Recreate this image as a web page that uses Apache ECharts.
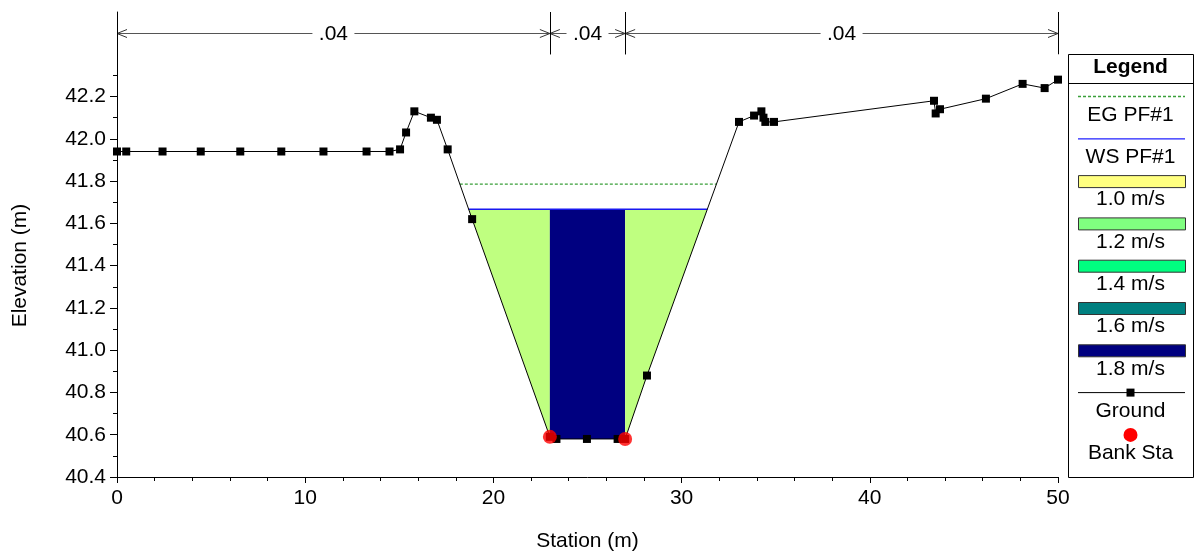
<!DOCTYPE html>
<html><head><meta charset="utf-8">
<script src="https://cdn.jsdelivr.net/npm/echarts@6/dist/echarts.min.js"></script>
<style>html,body{margin:0;padding:0;background:#fff}#c{width:1197px;height:559px}</style>
</head><body><div id="c"></div>
<script>
// ---------------- data ----------------
const groundStation = [0, 0.49, 2.42, 4.45, 6.55, 8.73, 10.97, 13.26, 14.48, 15.04, 15.36, 15.80, 16.68, 17.0, 17.57, 18.87,
  23.0, 23.35, 24.97, 26.6, 27.0, 28.16, 33.05, 33.85, 34.24, 34.35, 34.45, 34.91, 43.41, 43.5, 43.73, 46.17, 48.12, 49.29, 50.0];
const groundElev = [41.94, 41.94, 41.94, 41.94, 41.94, 41.94, 41.94, 41.94, 41.94, 41.95, 42.03, 42.13, 42.10, 42.09, 41.95, 41.62,
  40.59, 40.58, 40.58, 40.58, 40.58, 40.88, 42.08, 42.11, 42.13, 42.10, 42.08, 42.08, 42.18, 42.12, 42.14, 42.19, 42.26, 42.24, 42.28];
const bankStation = [23.0, 27.0];
const bankElev = [40.59, 40.58];
const wsElev = 41.667;   // WS PF#1
const egElev = 41.786;   // EG PF#1
const channelLow = 25.0; // station inside the wetted channel
const nBreaks = [0, 23.0, 27.0, 50];
const nValues = ['.04', '.04', '.04'];
const zoneStart = [null, 23.0, 27.0];   // null = water edge
const zoneEnd = [23.0, 27.0, null];
const zoneVelocity = [1.1, 1.8, 1.1];
const velocityLabels = ['1.0 m/s', '1.2 m/s', '1.4 m/s', '1.6 m/s', '1.8 m/s'];
const velocityStops = [1.0, 1.2, 1.4, 1.6, 1.8];
const velocityColors = ['#FFFF80', '#80FF80', '#00FF80', '#008080', '#000080'];
const xTickValues = [0, 10, 20, 30, 40, 50];
const yTickLabels = [40.4, 40.6, 40.8, 41.0, 41.2, 41.4, 41.6, 41.8, 42.0, 42.2];
const yMinorTicks = [40.5, 40.7, 40.9, 41.1, 41.3, 41.5, 41.7, 41.9, 42.1, 42.3];

// ---------------- helpers ----------------
function groundAt(s) {
  for (let i = 0; i < groundStation.length - 1; i++) {
    const a = groundStation[i], b = groundStation[i + 1];
    if (s >= a && s <= b) {
      if (b === a) return groundElev[i];
      return groundElev[i] + (groundElev[i + 1] - groundElev[i]) * (s - a) / (b - a);
    }
  }
  return groundElev[groundElev.length - 1];
}
function waterEdges(level) {
  let k = 0;
  while (groundStation[k + 1] <= channelLow) k++;
  let i = k;
  while (i > 0 && groundElev[i] < level) i--;
  const l = groundStation[i] + (groundStation[i + 1] - groundStation[i]) * (level - groundElev[i]) / (groundElev[i + 1] - groundElev[i]);
  let j = k + 1;
  while (j < groundStation.length - 1 && groundElev[j] < level) j++;
  const r = groundStation[j - 1] + (groundStation[j] - groundStation[j - 1]) * (level - groundElev[j - 1]) / (groundElev[j] - groundElev[j - 1]);
  return [l, r];
}
function velColor(v) {
  const hex = c => [1, 3, 5].map(p => parseInt(c.substr(p, 2), 16));
  if (v <= velocityStops[0]) return velocityColors[0];
  for (let i = 0; i < velocityStops.length - 1; i++) {
    if (v <= velocityStops[i + 1]) {
      const t = (v - velocityStops[i]) / (velocityStops[i + 1] - velocityStops[i]);
      const a = hex(velocityColors[i]), b = hex(velocityColors[i + 1]);
      return 'rgb(' + a.map((x, k) => Math.round(x + (b[k] - x) * t)).join(',') + ')';
    }
  }
  return velocityColors[velocityColors.length - 1];
}
const wsEdge = waterEdges(wsElev);
const egEdge = waterEdges(egElev);
const zones = zoneStart.map((s, i) => [s === null ? wsEdge[0] : s, zoneEnd[i] === null ? wsEdge[1] : zoneEnd[i], zoneVelocity[i]]);
const groundData = groundStation.map((s, i) => [s, groundElev[i]]);
const bankData = bankStation.map((s, i) => [s, bankElev[i]]);
const nData = nValues.map((n, i) => [nBreaks[i], nBreaks[i + 1], n]);

// ---------------- layout constants ----------------
const FONT = '"Liberation Sans", Arial, Helvetica, sans-serif';
const FS = 21;
const ANN_Y = 42.5, ANN_TOP = 42.6, ANN_BOT = 42.4;

const chart = echarts.init(document.getElementById('c'), null, { renderer: 'canvas' });

// legend graphic
const LX0 = 1068, LY0 = 54, LW = 125, LH = 423, LCX = LX0 + LW / 2;
const legendNames = ['EG PF#1', 'WS PF#1'].concat(velocityLabels, ['Ground', 'Bank Sta']);
const legendGraphic = [
  { type: 'rect', shape: { x: LX0 + 0.5, y: LY0 + 0.5, width: LW, height: LH }, style: { fill: '#fff', stroke: '#000', lineWidth: 1 }, z: 10 },
  { type: 'line', shape: { x1: LX0, y1: 83.5, x2: LX0 + LW, y2: 83.5 }, style: { stroke: '#000', lineWidth: 1 }, z: 11 },
  { type: 'text', x: LCX, y: 67, style: { text: 'Legend', font: 'bold ' + FS + 'px ' + FONT, fill: '#000', align: 'center', verticalAlign: 'middle' }, z: 11 }
];
const SX0 = 1078, SX1 = 1185;
legendNames.forEach((name, i) => {
  const sy = 96.5 + i * 42.3;
  const ty = sy + 18.5;
  if (i === 0) legendGraphic.push({ type: 'line', shape: { x1: SX0, y1: sy, x2: SX1, y2: sy }, style: { stroke: '#3a9f3a', lineWidth: 1.3, lineDash: [3, 2] }, z: 11 });
  else if (i === 1) legendGraphic.push({ type: 'line', shape: { x1: SX0, y1: sy, x2: SX1, y2: sy }, style: { stroke: '#2020ff', lineWidth: 1.3 }, z: 11 });
  else if (i < 2 + velocityLabels.length) legendGraphic.push({ type: 'rect', shape: { x: SX0 + 0.5, y: sy - 6 + 0.5, width: SX1 - SX0, height: 12 }, style: { fill: velocityColors[i - 2], stroke: '#333', lineWidth: 1 }, z: 11 });
  else if (name === 'Ground') {
    legendGraphic.push({ type: 'line', shape: { x1: SX0, y1: sy, x2: SX1, y2: sy }, style: { stroke: '#000', lineWidth: 1 }, z: 11 });
    legendGraphic.push({ type: 'rect', shape: { x: LCX - 4, y: sy - 4, width: 8, height: 8 }, style: { fill: '#000' }, z: 12 });
  } else {
    legendGraphic.push({ type: 'circle', shape: { cx: LCX, cy: sy, r: 7 }, style: { fill: '#ff0000' }, z: 11 });
  }
  legendGraphic.push({ type: 'text', x: LCX, y: ty, style: { text: name, font: FS + 'px ' + FONT, fill: '#000', align: 'center', verticalAlign: 'middle' }, z: 11 });
});

const option = {
  animation: false,
  backgroundColor: '#fff',
  textStyle: { fontFamily: FONT },
  grid: { left: 117, right: 139, top: 12, bottom: 82, containLabel: false },
  xAxis: {
    type: 'value', min: 0, max: 50, interval: 10,
    name: 'Station (m)', nameLocation: 'middle', nameGap: 54,
    nameTextStyle: { fontSize: FS, color: '#000', fontFamily: FONT },
    axisLine: { show: true, lineStyle: { color: '#000', width: 1 } },
    axisTick: { show: true, length: 6, lineStyle: { color: '#000' } },
    minorTick: { show: true, splitNumber: 5, length: 4, lineStyle: { color: '#000' } },
    axisLabel: { fontSize: FS, color: '#000', margin: 11, fontFamily: FONT },
    splitLine: { show: false }, minorSplitLine: { show: false }
  },
  yAxis: [{
    type: 'value', min: 40.4, max: 42.6, interval: 0.2,
    name: 'Elevation (m)', nameLocation: 'middle', nameGap: 86,
    nameTextStyle: { fontSize: FS, color: '#000', fontFamily: FONT, padding: [0, 42, 0, 0] },
    axisLine: { show: true, onZero: false, lineStyle: { color: '#000', width: 1 } },
    axisTick: { show: true, length: 7, customValues: yTickLabels, lineStyle: { color: '#000' } },
    axisLabel: { fontSize: FS, color: '#000', margin: 11, customValues: yTickLabels, fontFamily: FONT, formatter: v => v.toFixed(1) },
    splitLine: { show: false }
  }, {
    type: 'value', min: 40.4, max: 42.6, position: 'left', offset: 0,
    axisLine: { show: false },
    axisTick: { show: true, length: 4, customValues: yMinorTicks, lineStyle: { color: '#000' } },
    axisLabel: { show: false },
    splitLine: { show: false }
  }],
  graphic: legendGraphic,
  series: [
    {
      name: 'Velocity', type: 'custom', z: 1, silent: true,
      data: zones,
      renderItem: (params, api) => {
        const s0 = api.value(0), s1 = api.value(1), v = api.value(2);
        const pts = [[s0, wsElev], [s1, wsElev], [s1, groundAt(s1)]];
        for (let i = groundStation.length - 1; i >= 0; i--) {
          if (groundStation[i] < s1 && groundStation[i] > s0) pts.push([groundStation[i], groundElev[i]]);
        }
        pts.push([s0, groundAt(s0)]);
        return { type: 'polygon', shape: { points: pts.map(p => api.coord(p)) }, style: { fill: velColor(v), stroke: null } };
      }
    },
    {
      name: 'WS PF#1', type: 'line', z: 3, symbol: 'none',
      data: [[wsEdge[0], wsElev], [wsEdge[1], wsElev]],
      lineStyle: { color: '#1818f0', width: 1.5 }
    },
    {
      name: 'EG PF#1', type: 'line', z: 3, symbol: 'none',
      data: [[egEdge[0], egElev], [egEdge[1], egElev]],
      lineStyle: { color: '#3a9f3a', width: 1.3, type: [3, 2] }
    },
    {
      name: 'Ground', type: 'line', z: 4, symbol: 'rect', symbolSize: 8, showAllSymbol: true,
      data: groundData,
      itemStyle: { color: '#000' },
      lineStyle: { color: '#000', width: 1 }
    },
    {
      name: 'Bank Sta', type: 'scatter', z: 5, symbol: 'circle', symbolSize: 14,
      data: bankData,
      itemStyle: { color: '#ff0000' }
    },
    {
      name: 'Manning n', type: 'custom', z: 3, silent: true,
      data: nData,
      renderItem: (params, api) => {
        const s0 = api.value(0), s1 = api.value(1);
        const p0 = api.coord([s0, ANN_Y]), p1 = api.coord([s1, ANN_Y]);
        const yTop = api.coord([s0, ANN_TOP])[1], yBot = api.coord([s0, ANN_BOT])[1];
        const y = Math.round(p0[1]) + 0.5;
        const x0 = p0[0], x1 = p1[0], xm = (x0 + x1) / 2;
        const half = 21;
        const st = { stroke: '#555', lineWidth: 1, fill: null };
        const ast = { stroke: '#333', lineWidth: 1, fill: null };
        return {
          type: 'group', children: [
            { type: 'line', shape: { x1: x0, y1: y, x2: xm - half, y2: y }, style: st },
            { type: 'line', shape: { x1: xm + half, y1: y, x2: x1, y2: y }, style: st },
            { type: 'polyline', shape: { points: [[x0 + 10, y - 4], [x0, y], [x0 + 10, y + 4]] }, style: ast },
            { type: 'polyline', shape: { points: [[x1 - 10, y - 4], [x1, y], [x1 - 10, y + 4]] }, style: ast },
            { type: 'line', shape: { x1: Math.round(x0) + 0.5, y1: yTop, x2: Math.round(x0) + 0.5, y2: yBot }, style: { stroke: '#000', lineWidth: 1 } },
            { type: 'line', shape: { x1: Math.round(x1) + 0.5, y1: yTop, x2: Math.round(x1) + 0.5, y2: yBot }, style: { stroke: '#000', lineWidth: 1 } },
            { type: 'text', x: xm, y: y + 1, style: { text: api.value(2), font: FS + 'px ' + FONT, fill: '#000', align: 'center', verticalAlign: 'middle' } }
          ]
        };
      },
      dimensions: ['start', 'end', { name: 'n', type: 'ordinal' }]
    }
  ]
};
chart.setOption(option);
</script>
</body></html>
